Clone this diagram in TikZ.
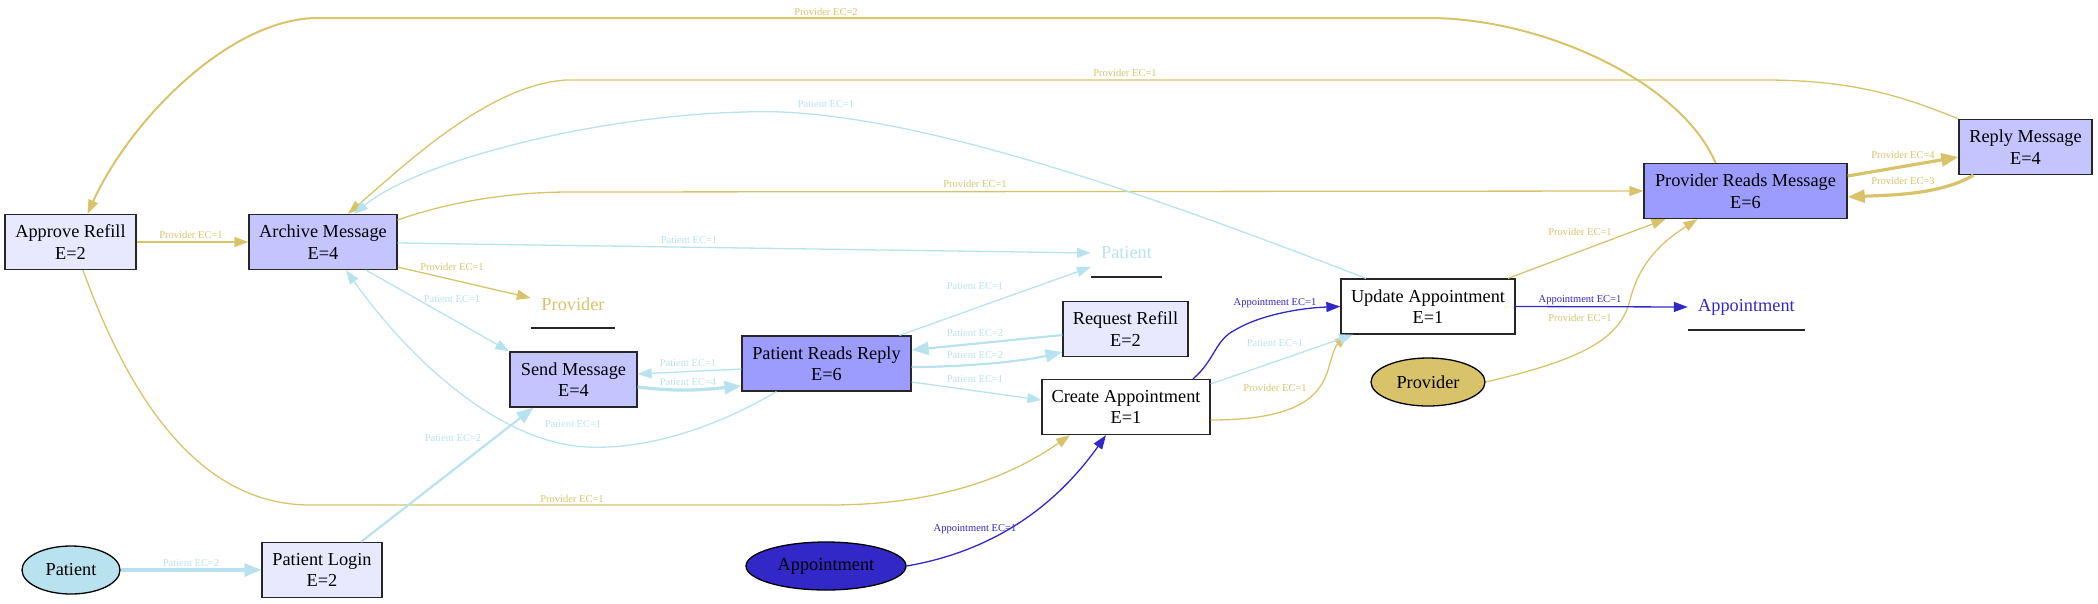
\documentclass[tikz,border=0pt]{standalone}
\usepackage{fontspec}
\setmainfont{Liberation Serif}
\usetikzlibrary{arrows.meta,shapes.geometric,calc}
\definecolor{provc}{HTML}{D8C36A}
\definecolor{patc}{HTML}{B8E3EE}
\definecolor{apptc}{HTML}{3228C8}
\definecolor{ftwo}{HTML}{E8E8FF}
\definecolor{ffour}{HTML}{C4C4FF}
\definecolor{fsix}{HTML}{9C9CFF}
\newcommand\nfont{\fontsize{18.3}{21.5}\selectfont}
\newcommand\efont{\fontsize{10.5}{12}\selectfont}
\begin{document}
\begin{tikzpicture}[x=1pt,y=-1pt,
  box/.style={draw=black!85, line width=1.3pt, rectangle, align=center, font=\nfont, inner sep=0pt, minimum height=55pt},
  ell/.style={draw=black, line width=1.3pt, ellipse, font=\nfont, inner sep=0pt, minimum height=48pt},
  lbl/.style={inner sep=0pt, font=\nfont, minimum height=47pt},
  uline/.style={draw=black!85, line width=1.6pt},
  elab/.style={inner sep=0pt, font=\efont},
  tipn/.style={-{Triangle[length=14pt,width=10pt]}},
  tipk/.style={-{Triangle[length=17pt,width=13pt]}},
  pv/.style={draw=provc, line width=1.3pt, tipn},
  pa/.style={draw=patc, line width=1.3pt, tipn},
  ap/.style={draw=apptc, line width=1.3pt, tipn},
  two/.style={line width=2.2pt, tipk},
  thr/.style={line width=3.2pt, tipk}
]
\useasboundingbox (0,0) rectangle (2098,603);

% nodes
\node[box, fill=ftwo, minimum width=131pt] (appr) at (70.5,242) {Approve Refill\\E=2};
\node[box, fill=ffour, minimum width=148pt] (arch) at (323,242) {Archive Message\\E=4};
\node[box, fill=ffour, minimum width=127pt] (send) at (573.5,379.5) {Send Message\\E=4};
\node[box, fill=fsix, minimum width=169pt] (prr) at (826.5,363.5) {Patient Reads Reply\\E=6};
\node[box, fill=ftwo, minimum width=125pt] (req) at (1125.5,329) {Request Refill\\E=2};
\node[box, fill=white, minimum width=168pt] (create) at (1126,407) {Create Appointment\\E=1};
\node[box, fill=white, minimum width=174pt] (update) at (1428,306.5) {Update Appointment\\E=1};
\node[box, fill=fsix, minimum width=203pt] (prm) at (1745.5,191) {Provider Reads Message\\E=6};
\node[box, fill=ffour, minimum width=133pt] (reply) at (2025.5,147) {Reply Message\\E=4};
\node[box, fill=ftwo, minimum width=120pt] (login) at (322,570) {Patient Login\\E=2};
\node[ell, fill=patc, minimum width=98pt] (patE) at (71,570) {Patient};
\node[ell, fill=apptc, minimum width=160pt] (apptE) at (826,566) {Appointment};
\node[ell, fill=provc, minimum width=114pt] (provE) at (1428,382) {Provider};

\node[lbl, text=provc, minimum width=84pt] (provl) at (573,304) {Provider};
\node[lbl, text=patc, minimum width=71pt, minimum height=48pt] (patl) at (1126.5,253) {Patient};
\node[lbl, text=apptc, minimum width=117pt, minimum height=46pt] (appl) at (1746.5,307) {Appointment};
\draw[uline] (provl.south west) -- (provl.south east);
\draw[uline] (patl.south west) -- (patl.south east);
\draw[uline] (appl.south west) -- (appl.south east);

% provider edges
\draw[pv] (appr.east) -- (arch.west);
\draw[pv] ([yshift=-25pt]arch.east) -- ([yshift=6pt]provl.west);
\draw[pv] ([xshift=12.5pt]appr.south) .. controls (130,400) and (200,505) .. (310,505) -- (830,505) .. controls (950,505) and (1020,470) .. ([xshift=-56pt]create.south);
\draw[pv] ([yshift=22pt]arch.east) .. controls (440,205) and (500,192) .. (570,192) -- (prm.west);
\draw[pv, line width=2pt] ([xshift=-30pt]prm.north) .. controls (1680,80) and (1540,18) .. (1429,18) -- (318,18) .. controls (230,18) and (130,120) .. ([xshift=17pt]appr.north);
\draw[pv] (reply.north west) .. controls (1900,95) and (1850,80) .. (1764,80) -- (566,80) .. controls (490,85) and (410,160) .. ([xshift=25pt]arch.north);
\draw[pv, thr] ([yshift=15pt]prm.east) -- ([yshift=-10pt]reply.west);
\draw[pv, thr] ([xshift=-52pt]reply.south) .. controls (1940,195) and (1890,195) .. ([yshift=-6pt]prm.east);
\draw[pv] ([xshift=80pt]update.north) -- ([xshift=-80pt]prm.south);
\draw[pv] (provE.east) .. controls (1580,360) and (1620,340) .. (1630,300) .. controls (1640,260) and (1665,240) .. ([xshift=-48pt]prm.south);
\draw[pv] ([yshift=-13pt]create.east) .. controls (1300,420) and (1320,395) .. (1328,370) .. controls (1333,352) and (1336,345) .. ([xshift=-80pt]update.south);

% patient edges
\draw[pa] ([yshift=-1pt]arch.east) -- (patl.west);
\draw[pa] ([xshift=43pt]arch.south) -- (send.north west);
\draw[pa] ([xshift=73pt]prr.north) -- ([yshift=-14pt]patl.west);
\draw[pa, two] ([yshift=-6pt]req.west) -- ([yshift=13.5pt]prr.east);
\draw[pa, two] ([yshift=-3.5pt]prr.east) .. controls (960,367) and (1020,362) .. ([yshift=-23pt]req.west);
\draw[pa] ([yshift=-18.5pt]prr.east) -- ([yshift=7pt]create.west);
\draw[pa] ([yshift=-5.5pt]prr.west) -- ([yshift=5.5pt]send.east);
\draw[pa, thr] ([yshift=-7.5pt]send.east) .. controls (680,392) and (700,390) .. ([yshift=-22.5pt]prr.west);
\draw[pa] ([xshift=-50pt]prr.south) .. controls (720,425) and (650,450) .. (587,447) .. controls (500,443) and (410,360) .. ([xshift=23pt]arch.south);
\draw[pa] ([xshift=-62pt]update.north) .. controls (1150,195) and (900,105) .. (745,112) .. controls (600,115) and (420,160) .. ([xshift=31pt]arch.north);
\draw[pa] ([yshift=23pt]create.east) -- ([xshift=-75pt]update.south);
\draw[pa, thr] (patE.east) -- (login.west);
\draw[pa, two] ([xshift=39pt]login.north) -- ([xshift=-40pt]send.south);

% appointment edges
\draw[ap] (apptE.east) .. controls (1000,550) and (1060,500) .. ([xshift=-20pt]create.south);
\draw[ap] ([xshift=67pt]create.north) .. controls (1215,360) and (1215,340) .. (1235,330) .. controls (1260,315) and (1300,308) .. (update.west);
\draw[ap] (update.east) -- (appl.west);

% edge labels
\begin{scope}[every node/.style={elab, text=provc}]
\node (l1) at (191,235) {Provider EC=1};
\node (l2) at (452,267) {Provider EC=1};
\node (l3) at (572,499) {Provider EC=1};
\node (l4) at (975,184) {Provider EC=1};
\node (l5) at (826,12) {Provider EC=2};
\node (l6) at (1125,73) {Provider EC=1};
\node (l7) at (1903,155) {Provider EC=4};
\node (l8) at (1903,181) {Provider EC=3};
\node (l9) at (1580,232) {Provider EC=1};
\node (l10) at (1580,318) {Provider EC=1};
\node (l11) at (1275,388) {Provider EC=1};
\end{scope}
\begin{scope}[every node/.style={elab, text=patc}]
\node (l12) at (689,240) {Patient EC=1};
\node (l13) at (452,299) {Patient EC=1};
\node (l14) at (975,286) {Patient EC=1};
\node (l15) at (975,333) {Patient EC=2};
\node (l16) at (975,355) {Patient EC=2};
\node (l17) at (975,379) {Patient EC=1};
\node (l18) at (688,363) {Patient EC=1};
\node (l19) at (688,382) {Patient EC=4};
\node (l20) at (573,424) {Patient EC=1};
\node (l21) at (826,104) {Patient EC=1};
\node (l22) at (1275,343) {Patient EC=1};
\node (l23) at (191,563) {Patient EC=2};
\node (l24) at (453,438) {Patient EC=2};
\end{scope}
\begin{scope}[every node/.style={elab, text=apptc}]
\node (l25) at (975,529) {Appointment EC=1};
\node (l26) at (1275,303) {Appointment EC=1};
\node (l27) at (1580,300) {Appointment EC=1};
\end{scope}
\end{tikzpicture}
\end{document}
